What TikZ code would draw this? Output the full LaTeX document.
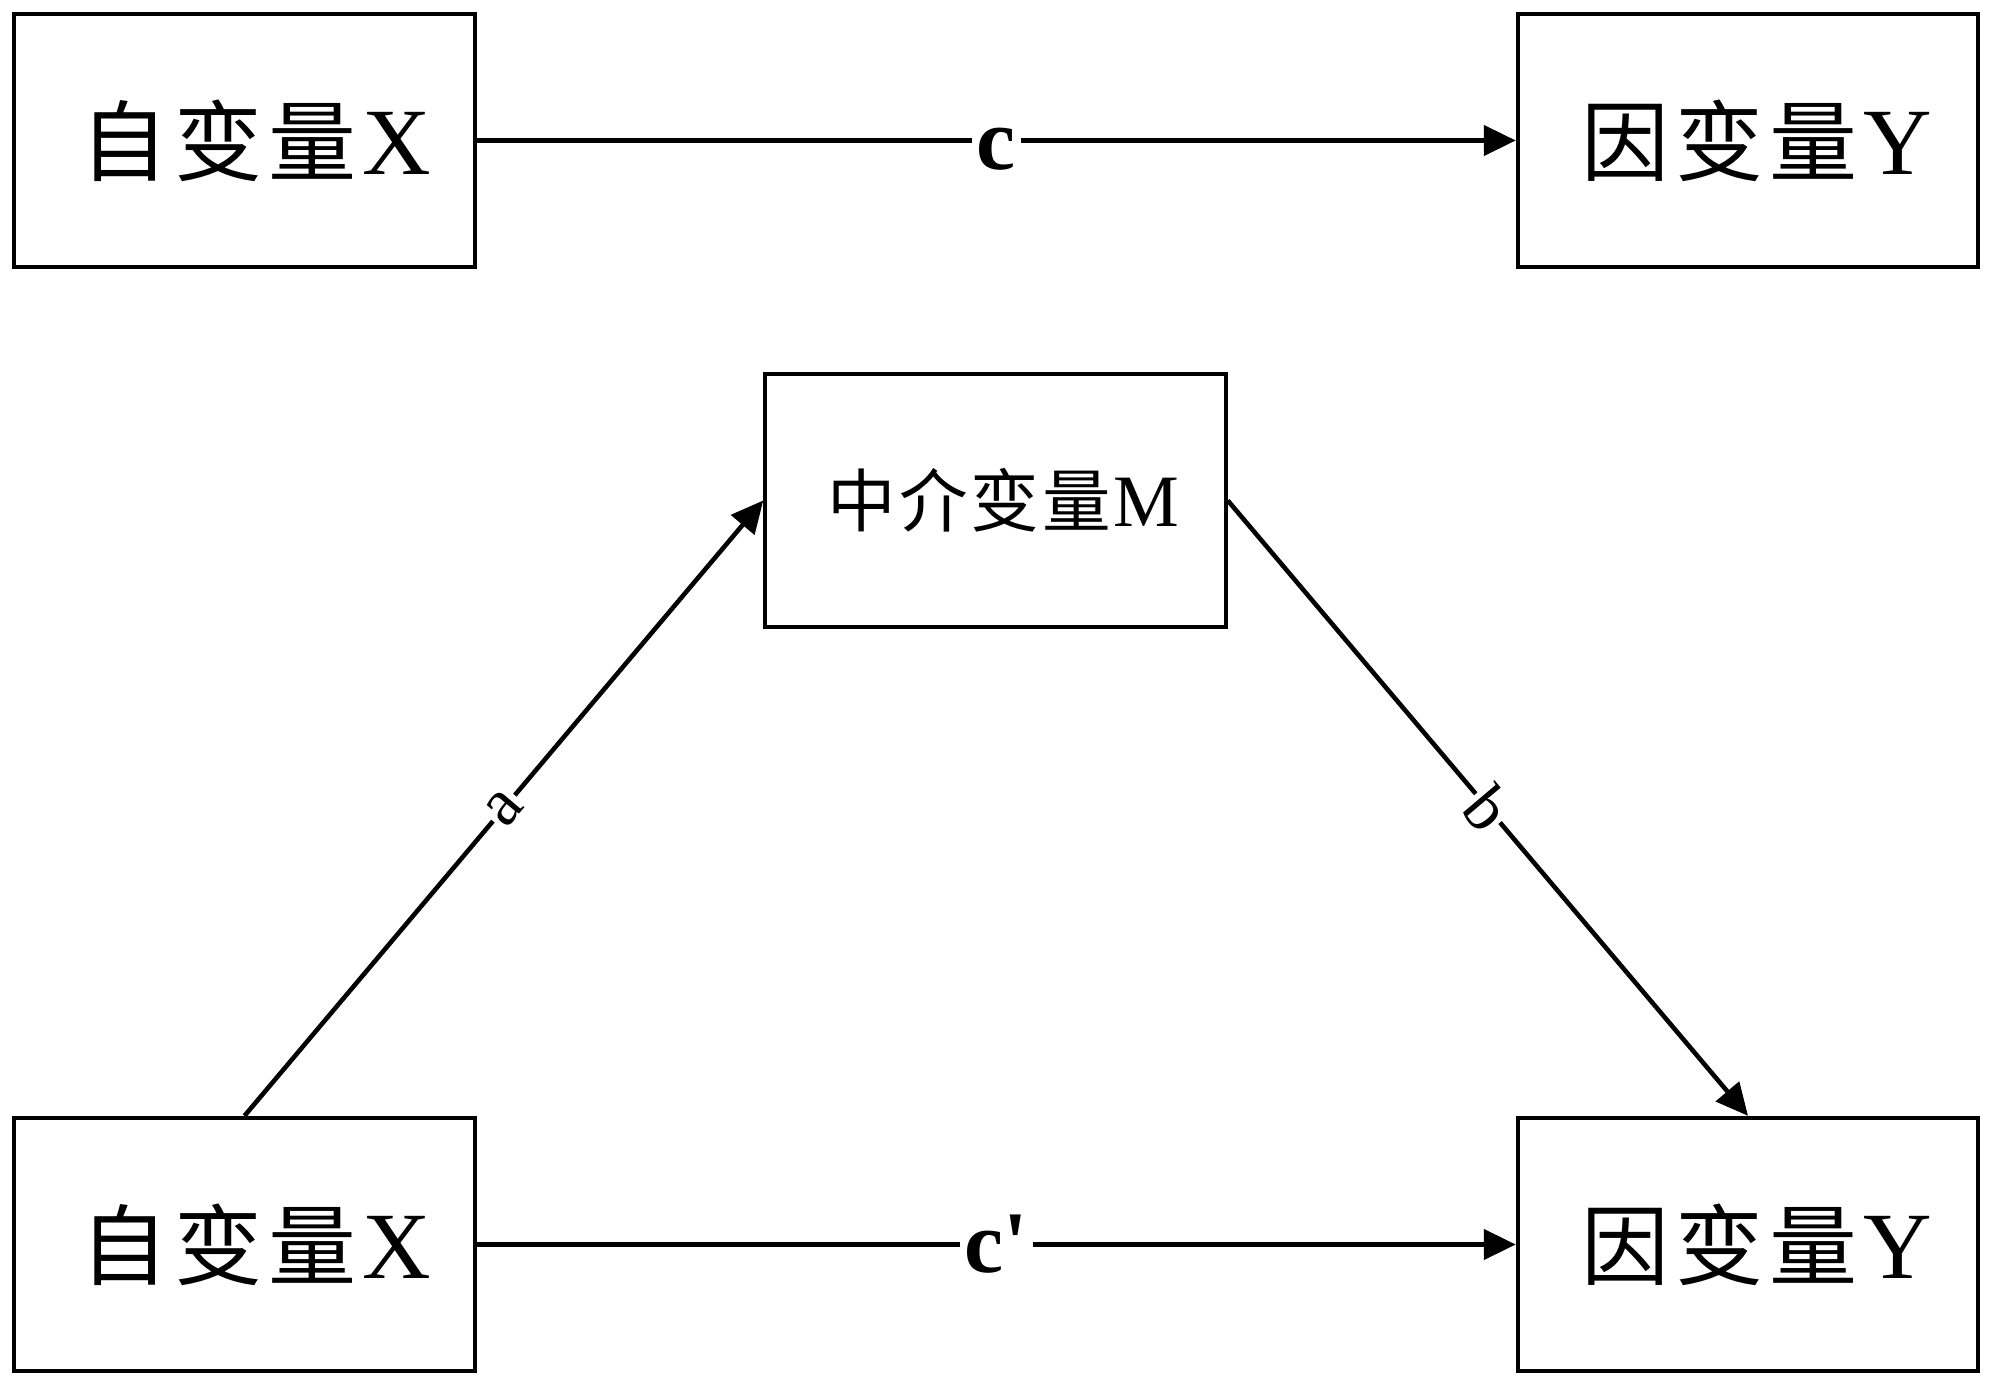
\documentclass[tikz,border=0pt]{standalone}
\usepackage{fontspec}
\setmainfont{Liberation Serif}
\newfontfamily\cjk{Noto Sans CJK SC}
\usetikzlibrary{arrows.meta}
\begin{document}
\begin{tikzpicture}[x=0.01cm,y=-0.01cm,
  box/.style={draw, line width=1.2pt, minimum width=4.6cm, minimum height=2.53cm, inner sep=0pt},
  bigtext/.style={font=\fontsize{27}{30}\selectfont},
  midtext/.style={font=\fontsize{21}{24}\selectfont},
  link/.style={line width=1.3pt, -{Triangle[length=0.32cm,width=0.3cm]}},
  clab/.style={fill=white, inner sep=0.05cm, font=\bfseries\fontsize{25}{28}\selectfont},
  slab/.style={fill=white, inner sep=0.02cm, sloped, font=\fontsize{19}{22}\selectfont}]
\useasboundingbox (0,0) rectangle (2000,1392);
\node[box, bigtext] (x1) at (244.5,140.5) {\hspace*{0.23cm}{\cjk\fontsize{25}{30}\selectfont 自\hspace{0.06cm}变\hspace{0.06cm}量}\hspace{0.06cm}X};
\node[box, bigtext] (y1) at (1748,140.5) {\hspace*{0.17cm}{\cjk\fontsize{25}{30}\selectfont 因\hspace{0.06cm}变\hspace{0.06cm}量}\hspace{0.06cm}Y};
\node[box, midtext] (m) at (995.5,500.5) {\hspace*{0.16cm}{\cjk\fontsize{19.5}{24}\selectfont 中\hspace{0.03cm}介\hspace{0.03cm}变\hspace{0.03cm}量}\hspace{0.03cm}M};
\node[box, bigtext] (x2) at (244.5,1244.5) {\hspace*{0.23cm}{\cjk\fontsize{25}{30}\selectfont 自\hspace{0.06cm}变\hspace{0.06cm}量}\hspace{0.06cm}X};
\node[box, bigtext] (y2) at (1748,1244.5) {\hspace*{0.17cm}{\cjk\fontsize{25}{30}\selectfont 因\hspace{0.06cm}变\hspace{0.06cm}量}\hspace{0.06cm}Y};
\draw[link] (x1) -- node[clab, yshift=-0.09cm] {c} (y1);
\draw[link] (x2) -- node[clab] {c\textquotesingle} (y2);
\draw[link] (x2.north) -- node[slab] {a} (m.west);
\draw[link] (m.east) -- node[slab] {b} (y2.north);
\end{tikzpicture}
\end{document}
